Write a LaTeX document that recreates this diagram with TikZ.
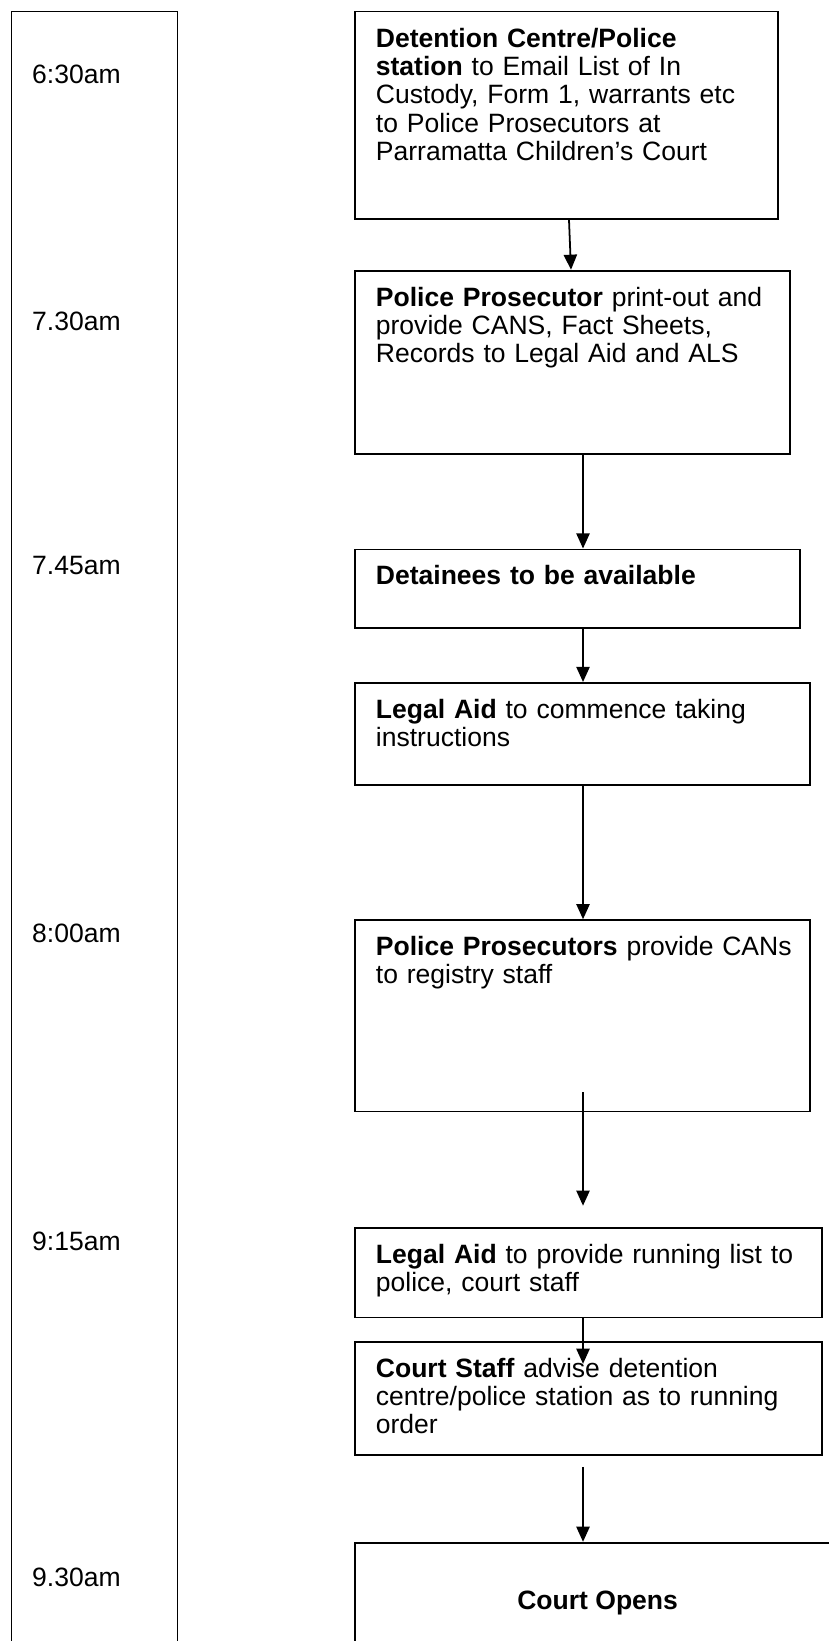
\documentclass[tikz,border=0pt]{standalone}
\usepackage{fontspec}
\setmainfont{Liberation Sans}
\usetikzlibrary{arrows.meta,positioning}
\definecolor{ink}{HTML}{000000}
\tikzset{
  font=\fontsize{12}{12.85}\selectfont,
  lane/.style={
    draw=ink,
    line width=0.8pt,
    anchor=north west,
    inner sep=0pt
  },
  timelabel/.style={
    anchor=base west,
    inner sep=0pt,
    text=ink
  },
  box/.style={
    draw=ink,
    line width=0.8pt,
    align=left,
    inner xsep=3.3mm,
    inner ysep=0pt,
    text height=5.64mm
  },
  endbox/.style={
    draw=ink,
    line width=0.8pt,
    align=center,
    inner sep=0pt,
    font=\fontsize{12}{12.85}\selectfont\bfseries
  },
  arrow/.style={
    -{Triangle[length=2.4mm,width=2.1mm]},
    draw=ink,
    line width=0.8pt
  }
}

\begin{document}
\begin{tikzpicture}

\useasboundingbox (0,0) rectangle (131.81mm,-260.92mm);
\clip (0,0) rectangle (131.81mm,-260.92mm);

% ---------------------------------------------------------------------------
% Time column
% ---------------------------------------------------------------------------
\node[lane, minimum width=26.4mm, minimum height=264mm] (timeline) at (1.7mm,-1.7mm) {};

\node[timelabel] (t0630) at (5.04mm,-13.24mm) {6:30am};
\node[timelabel] (t0730) at (5.04mm,-52.47mm) {7.30am};
\node[timelabel] (t0745) at (5.04mm,-91.27mm) {7.45am};
\node[timelabel] (t0800) at (5.04mm,-149.89mm) {8:00am};
\node[timelabel] (t0915) at (5.04mm,-198.75mm) {9:15am};
\node[timelabel] (t0930) at (5.04mm,-252.29mm) {9.30am};

% ---------------------------------------------------------------------------
% Morning steps
% ---------------------------------------------------------------------------
\node[box, anchor=north west, text width=60.66mm, text depth=27.32mm] (email) at (56.33mm,-1.7mm)
  {\textbf{Detention Centre/Police}\\\textbf{station} to Email List of In\\Custody, Form 1, warrants etc\\to Police Prosecutors at\\Parramatta Children’s Court};
\node[box, below right=7.95mm and 0mm of email.south west, text width=62.52mm, text depth=23.57mm] (printout)
  {\textbf{Police Prosecutor} print-out and\\provide CANS, Fact Sheets,\\Records to Legal Aid and ALS};
\node[box, below right=14.83mm and 0mm of printout.south west, text width=64.11mm, text depth=6.81mm] (detainees)
  {\textbf{Detainees to be available}};
\node[box, below right=8.49mm and 0mm of detainees.south west, text width=65.7mm, text depth=10.63mm] (instructions)
  {\textbf{Legal Aid} to commence taking\\instructions};
\node[box, below right=21.17mm and 0mm of instructions.south west, text width=65.75mm, text depth=24.78mm] (registry)
  {\mbox{\textbf{Police Prosecutors} provide CANs}\\to registry staff};

% ---------------------------------------------------------------------------
% Running order and court
% ---------------------------------------------------------------------------
\node[box, below right=18.24mm and 0mm of registry.south west, text width=67.61mm, text depth=8.59mm] (runlist)
  {\textbf{Legal Aid} to provide running list to\\police, court staff};
\node[box, below right=3.58mm and 0mm of runlist.south west, text width=67.61mm, text depth=12.37mm] (advise)
  {\textbf{Court Staff} advise detention\\centre/police station as to running\\order};
\node[endbox, below right=13.67mm and 0mm of advise.south west, minimum width=77.1mm, minimum height=19.08mm] (opens)
  {Court Opens};

\draw[arrow] ([xshift=34.14mm]email.south west) -- ([xshift=34.46mm]printout.north west);
\draw[arrow] ([xshift=36.37mm]printout.south west) -- ([xshift=36.37mm]detainees.north west);
\draw[arrow] ([xshift=36.37mm]detainees.south west) -- ([xshift=36.37mm]instructions.north west);
\draw[arrow] ([xshift=36.37mm]instructions.south west) -- ([xshift=36.37mm]registry.north west);
\draw[arrow] ([xshift=36.37mm,yshift=3.18mm]registry.south west) -- ([xshift=36.37mm,yshift=3.39mm]runlist.north west);
\draw[arrow] ([xshift=36.37mm]runlist.south west) -- ([xshift=36.37mm,yshift=-3.66mm]advise.north west);
\draw[arrow] ([xshift=36.37mm,yshift=-1.75mm]advise.south west) -- ([xshift=36.37mm]opens.north west);

\end{tikzpicture}
\end{document}
